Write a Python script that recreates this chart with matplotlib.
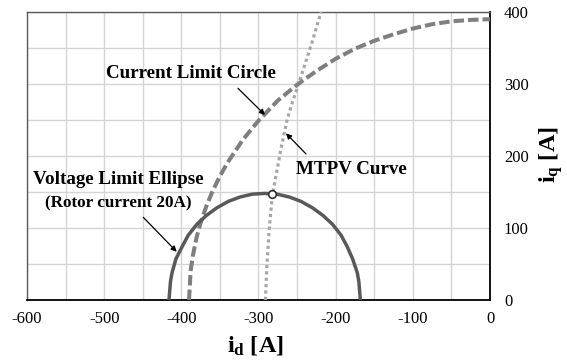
import matplotlib
matplotlib.use("Agg")
import matplotlib.pyplot as plt

plt.rcParams['font.family'] = ['Liberation Serif', 'DejaVu Serif']
plt.rcParams['mathtext.fontset'] = 'custom'
plt.rcParams['mathtext.rm'] = 'Liberation Serif:bold'
plt.rcParams['mathtext.bf'] = 'Liberation Serif:bold'
plt.rcParams['mathtext.it'] = 'Liberation Serif:bold'

# Current limit circle (id, iq)
circle_id = [-390, -388, -385, -380, -375, -368, -360, -350, -340, -320, -300, -275, -250,
             -225, -200, -175, -150, -125, -100, -75, -50, -25, 0]
circle_iq = [0, 40, 62, 88, 107, 129, 150, 172, 191, 223, 249, 277, 299,
             318, 335, 349, 360, 369, 377, 383, 387, 389, 390]

# Voltage limit ellipse (rotor current 20A)
ellipse_id = [-416, -414, -412, -407, -399, -391, -380, -368, -354, -339, -324, -308, -292,
              -276, -260, -245, -230, -216, -204, -193, -185, -178, -172, -170, -168]
ellipse_iq = [0, 26, 38, 57, 74, 90, 105, 117, 128, 137, 143, 147, 148,
              147, 143, 137, 128, 117, 105, 90, 74, 57, 38, 26, 0]

# MTPV curve
mtpv_id = [-291, -289, -286, -282, -276, -270, -263, -256, -248, -239, -230, -219]
mtpv_iq = [0, 50, 100, 146, 180, 215, 250, 275, 300, 330, 360, 400]

# Operating point marker
point_id = [-282]
point_iq = [147]

x_ticks = [-600, -500, -400, -300, -200, -100, 0]
y_ticks = [0, 100, 200, 300, 400]

fig = plt.figure(figsize=(5.67, 3.61), dpi=100)
ax = fig.add_axes([0.0476, 0.169, 0.8166, 0.7978])

ax.set_xlim(-600, 0)
ax.set_ylim(0, 400)
ax.set_xticks(range(-600, 1, 50))
ax.set_yticks(range(0, 401, 50))
ax.grid(True, color='#d4d4d4', linewidth=1.0)
ax.set_axisbelow(True)

xt = ax.get_xticks()
ax.set_xticklabels([str(int(v)) if int(v) in x_ticks else '' for v in xt])
yt = ax.get_yticks()
ax.yaxis.tick_right()
ax.set_yticklabels([str(int(v)) if int(v) in y_ticks else '' for v in yt])
ax.tick_params(axis='both', length=0, labelsize=12)
ax.tick_params(axis='x', pad=8)
ax.tick_params(axis='y', pad=10)

for s in ['top', 'left']:
    ax.spines[s].set_color('#595959')
    ax.spines[s].set_linewidth(1.0)
for s in ['bottom', 'right']:
    ax.spines[s].set_color('black')
    ax.spines[s].set_linewidth(1.3)

ax.plot(mtpv_id, mtpv_iq, color='#a6a6a6', linewidth=2.3, linestyle=(0, (1, 1)),
        dash_capstyle='butt', zorder=3)
ax.plot(circle_id, circle_iq, color='#7f7f7f', linewidth=2.9, linestyle=(0, (2.6, 1.0)),
        dash_capstyle='butt', zorder=3)
ax.plot(ellipse_id, ellipse_iq, color='#595959', linewidth=2.5, zorder=4)
ax.plot(point_id, point_iq, marker='o', markersize=5.5, markerfacecolor='white',
        markeredgecolor='#303030', markeredgewidth=1.2, linestyle='none', zorder=5)

arrowprops = dict(arrowstyle='-|>', color='black', linewidth=0.9, mutation_scale=8,
                  shrinkA=0, shrinkB=0)
ax.annotate('', xy=(-291.6, 257), xytext=(-326.6, 294), arrowprops=arrowprops)
ax.annotate('', xy=(-264.4, 231.5), xytext=(-238.4, 202.8), arrowprops=arrowprops)
ax.annotate('', xy=(-406, 67), xytext=(-449.3, 114.8), arrowprops=arrowprops)

ax.text(-387.5, 315, 'Current Limit Circle', fontsize=13.7, fontweight='bold',
        ha='center', va='center')
ax.text(-179.2, 180.6, 'MTPV Curve', fontsize=13.7, fontweight='bold',
        ha='center', va='center')
ax.text(-481.7, 166.7, 'Voltage Limit Ellipse', fontsize=13.7, fontweight='bold',
        ha='center', va='center')
ax.text(-481.7, 134.3, '(Rotor current 20A)', fontsize=12.3, fontweight='bold',
        ha='center', va='center')

fig.text(0.45, 0.044, r'i$_\mathrm{d}$ [A]', fontsize=17.5, fontweight='bold',
         ha='center', va='center')
fig.text(0.972, 0.571, r'i$_\mathrm{q}$ [A]', fontsize=17.5, fontweight='bold',
         ha='center', va='center', rotation=90)

fig.savefig('out.png', dpi=100)
